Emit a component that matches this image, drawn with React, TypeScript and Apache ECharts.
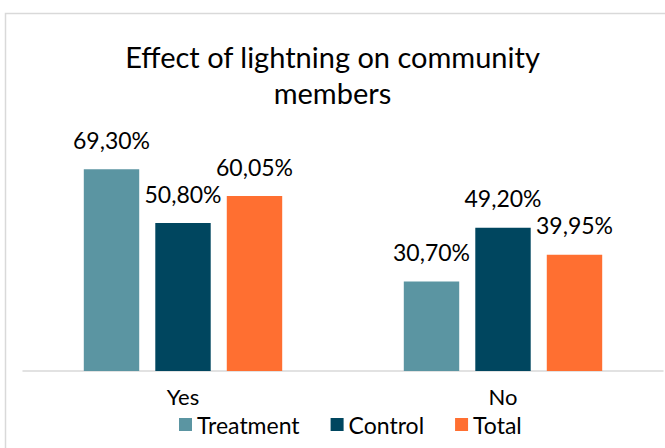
import React, { useEffect, useRef } from "react";
import * as echarts from "echarts";

const categories = ["Yes", "No"];
const seriesNames = ["Treatment", "Control", "Total"];
const treatment = [69.3, 30.7];
const control = [50.8, 49.2];
const total = [60.05, 39.95];
const colors = ["#5B95A2", "#00465F", "#FF6F31"];

const FONT = "Lato, 'Open Sans', sans-serif";

export default function App() {
  const ref = useRef<HTMLDivElement>(null);
  useEffect(() => {
    const chart = echarts.init(ref.current!, null, { renderer: "svg" });
    const values = [treatment, control, total];
    const fmt = (v: number) => v.toFixed(2).replace(".", ",") + "%";
    chart.setOption({
      animation: false,
      textStyle: { fontFamily: FONT },
      graphic: [
        {
          type: "rect",
          shape: { x: 5.5, y: 13.5, width: 720, height: 500 },
          style: { fill: "none", stroke: "#d9d9d9", lineWidth: 1.5 },
          silent: true,
          z: -1,
        },
      ],
      title: {
        text: "Effect of lightning on community\nmembers",
        left: "center",
        top: 33,
        textStyle: {
          fontFamily: FONT,
          fontSize: 29,
          fontWeight: "normal",
          color: "#000",
          lineHeight: 36,
        },
      },
      legend: {
        data: seriesNames,
        top: 408,
        left: 174,
        itemWidth: 13,
        itemHeight: 13,
        itemGap: 31,
        icon: "rect",
        textStyle: { fontFamily: FONT, fontSize: 23, color: "#000", lineHeight: 22 },
      },
      grid: { left: 23, right: 2, top: 138, bottom: 77 },
      xAxis: {
        type: "category",
        data: categories,
        axisLine: { lineStyle: { color: "#d9d9d9", width: 1.5 } },
        axisTick: { show: false },
        axisLabel: { fontFamily: FONT, fontSize: 22, color: "#000", margin: 15, lineHeight: 20 },
      },
      yAxis: {
        type: "value",
        min: 0,
        max: 80,
        show: false,
        splitLine: { show: false },
      },
      series: seriesNames.map((name, i) => ({
        name,
        type: "bar",
        data: values[i],
        barGap: "29%",
        barCategoryGap: "38%",
        itemStyle: { color: colors[i] },
        label: {
          show: true,
          position: "top",
          distance: 18,
          fontFamily: FONT,
          fontSize: 23,
          color: "#000",
          formatter: (p: any) => fmt(p.value),
        },
      })),
    });
    return () => chart.dispose();
  }, []);
  return (
    <div
      ref={ref}
      style={{ position: "fixed", left: 0, top: 0, width: 665, height: 448, background: "#fff" }}
    />
  );
}
